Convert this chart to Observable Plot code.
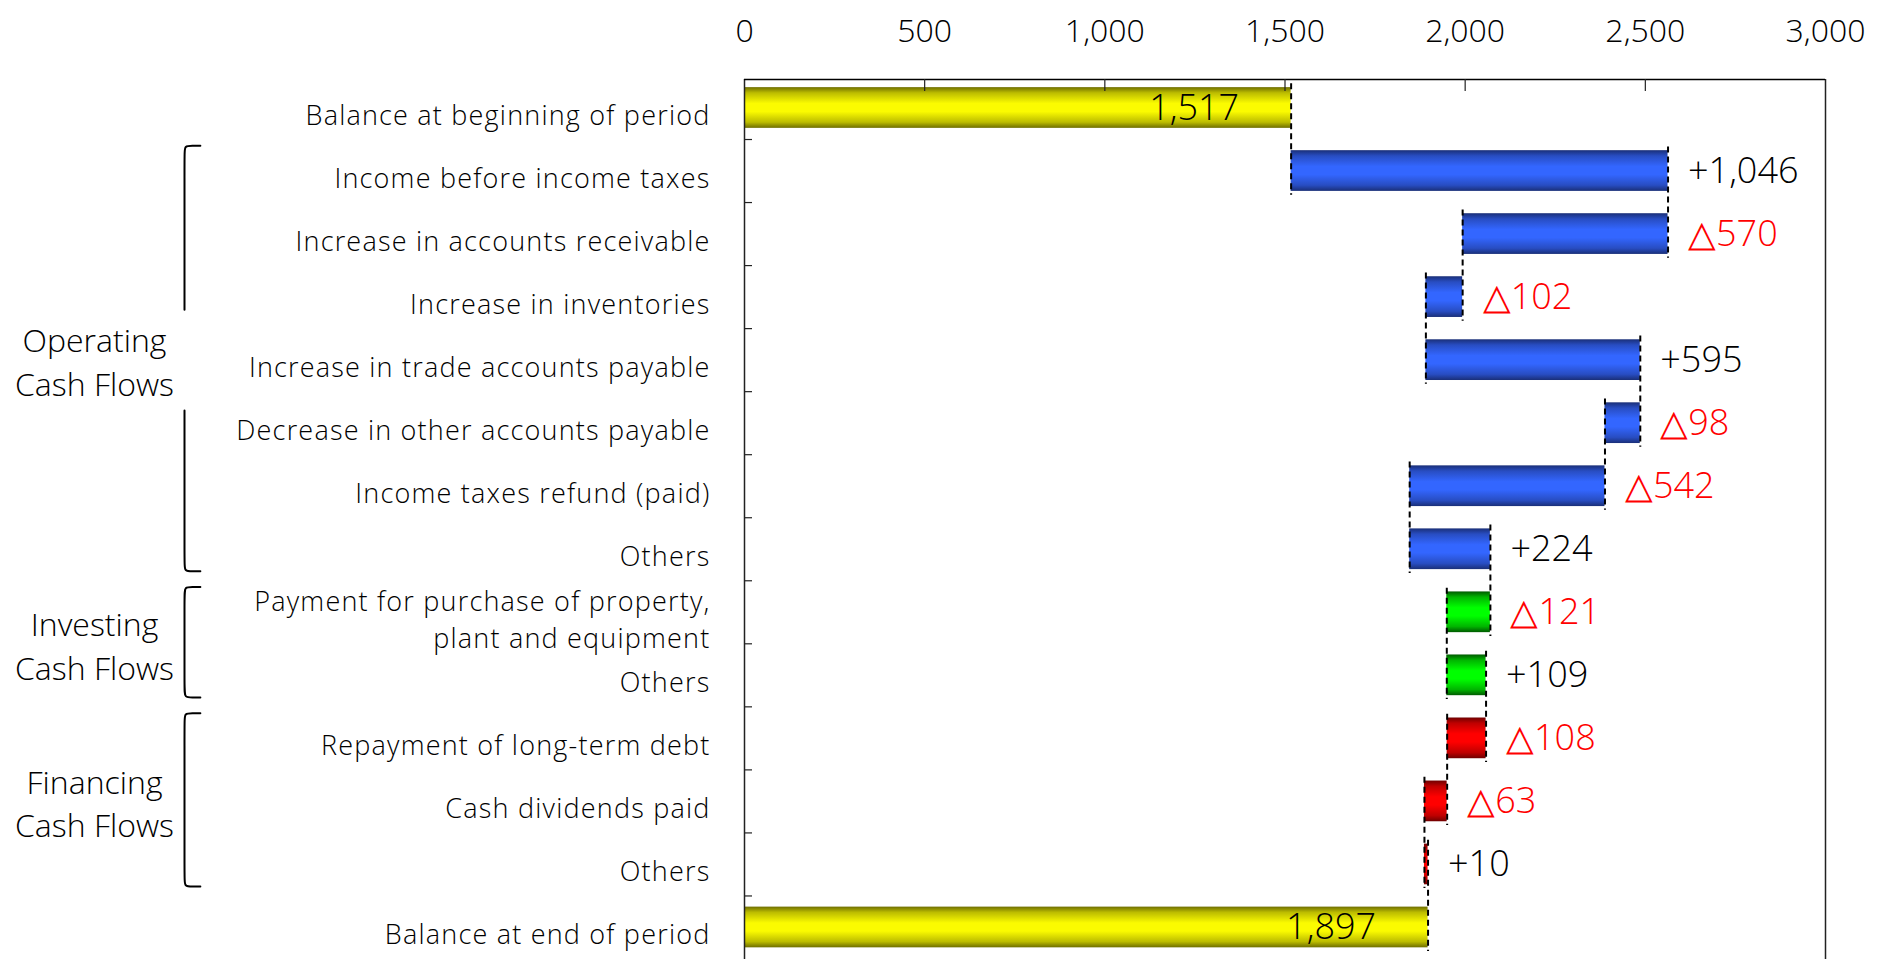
<!DOCTYPE html>
<html>
<head>
<meta charset="utf-8">
<script src="https://cdn.jsdelivr.net/npm/d3@7"></script>
<script src="https://cdn.jsdelivr.net/npm/@observablehq/plot@0.6"></script>
<style>
  html, body { margin: 0; padding: 0; background: #fff; }
  #chart svg { display: block; }
  .cfchart g[aria-label="y-axis tick label"] text { letter-spacing: 1.2px; }
</style>
</head>
<body>
<div id="chart"></div>
<script>
// ---------------- data ----------------
const categories = [
  "Balance at beginning of period",
  "Income before income taxes",
  "Increase in accounts receivable",
  "Increase in inventories",
  "Increase in trade accounts payable",
  "Decrease in other accounts payable",
  "Income taxes refund (paid)",
  "Others",
  "Payment for purchase of property,\nplant and equipment",
  "Others",
  "Repayment of long-term debt",
  "Cash dividends paid",
  "Others",
  "Balance at end of period"
];
const openingBalance = 1517;
const closingBalance = 1897;
const flowValues = [1046, -570, -102, 595, -98, -542, 224, -121, 109, -108, -63, 10];
const flowGroup = ["Operating", "Operating", "Operating", "Operating", "Operating", "Operating", "Operating",
                   "Investing", "Investing", "Financing", "Financing", "Financing"];
const groupNames = ["Operating", "Investing", "Financing"];
const groupLabels = ["Operating\nCash Flows", "Investing\nCash Flows", "Financing\nCash Flows"];
const xTicks = [0, 500, 1000, 1500, 2000, 2500, 3000];

// ---------------- layout constants ----------------
const W = 1884, H = 959;
const M_TOP = 79, M_BOTTOM = 0, M_LEFT = 744, M_RIGHT = 59;
const Y_DOMAIN = [-0.452, 13.508];
const HALF = 0.323;          // half bar thickness (in row units)
const EXT = 0.06;            // dashed connector overshoot
const FONT = "'Open Sans', Lato, sans-serif";

// ---------------- derived rows ----------------
const bars = [];
bars.push({i: 0, x1: 0, x2: openingBalance, kind: "balance", value: openingBalance});
let cum = openingBalance;
flowValues.forEach((v, k) => {
  const s = cum; cum += v;
  bars.push({i: k + 1, x1: s, x2: cum, kind: flowGroup[k], value: v});
});
bars.push({i: categories.length - 1, x1: 0, x2: closingBalance, kind: "balance", value: closingBalance});

const connectors = bars.slice(0, -1).map(b => ({i: b.i, x: b.x2}));
const flows = bars.filter(b => b.kind !== "balance");
const balances = bars.filter(b => b.kind === "balance");

const groups = groupNames.map((g, k) => {
  const idx = flows.filter(f => f.kind === g).map(f => f.i);
  return {name: groupLabels[k], first: d3.min(idx), last: d3.max(idx), broken: k === 0};
});

// bracket polylines (row units for y, small data-unit hook for x)
const HOOK = 44, R = 0.12, GAP = 0.8;
const bracketPts = [];
groups.forEach((g, k) => {
  const top = g.first - 0.4, bot = g.last + 0.35, mid = (g.first + g.last) / 2;
  const head = [[HOOK, top], [HOOK / 2, top], [0, top], [0, top + R]];
  const tail = [[0, bot - R], [0, bot], [HOOK / 2, bot], [HOOK, bot]];
  if (g.broken) {
    [...head, [0, mid - GAP]].forEach(([x, y]) => bracketPts.push({x, y, z: k + "a"}));
    [[0, mid + GAP], ...tail].forEach(([x, y]) => bracketPts.push({x, y, z: k + "b"}));
  } else {
    [...head, ...tail].forEach(([x, y]) => bracketPts.push({x, y, z: k + "a"}));
  }
});

const fmt = d3.format(",");
const gradients = {
  gYellow: ["#6e6e00", "#fbfb00"],
  gBlue: ["#1a2f78", "#3366ff"],
  gGreen: ["#005a00", "#00ff00"],
  gRed: ["#700000", "#ff0000"]
};
const fills = {balance: "url(#gYellow)", Operating: "url(#gBlue)", Investing: "url(#gGreen)", Financing: "url(#gRed)"};

function defsMark() {
  const ns = "http://www.w3.org/2000/svg";
  const defs = document.createElementNS(ns, "defs");
  for (const [id, [dark, bright]] of Object.entries(gradients)) {
    const lg = document.createElementNS(ns, "linearGradient");
    lg.setAttribute("id", id);
    lg.setAttribute("x1", "0"); lg.setAttribute("y1", "0");
    lg.setAttribute("x2", "0"); lg.setAttribute("y2", "1");
    const mid = d3.interpolateRgb(dark, bright)(0.55);
    [[0, dark], [0.14, mid], [0.4, bright], [0.6, bright], [0.86, mid], [1, dark]].forEach(([o, c]) => {
      const st = document.createElementNS(ns, "stop");
      st.setAttribute("offset", o);
      st.setAttribute("stop-color", c);
      lg.appendChild(st);
    });
    defs.appendChild(lg);
  }
  return defs;
}

const frameW = W - M_LEFT - M_RIGHT, frameH = H - M_TOP - M_BOTTOM;

const chart = Plot.plot({
  width: W, height: H,
  className: "cfchart",
  marginTop: M_TOP, marginBottom: M_BOTTOM, marginLeft: M_LEFT, marginRight: M_RIGHT,
  x: {domain: [xTicks[0], xTicks[xTicks.length - 1]]},
  y: {domain: Y_DOMAIN, reverse: true},
  style: {fontFamily: FONT, color: "#000", background: "#fff", overflow: "visible"},
  marks: [
    defsMark,
    // bars
    ...Object.entries(fills).map(([kind, fill]) =>
      Plot.rect(bars.filter(b => b.kind === kind), {
        x1: "x1", x2: "x2", y1: d => d.i - HALF, y2: d => d.i + HALF, fill
      })),
    // dashed connectors
    Plot.ruleX(connectors, {
      x: "x", y1: d => d.i - HALF - EXT, y2: d => d.i + 1 + HALF + EXT,
      stroke: "#000", strokeWidth: 2, strokeDasharray: "6,4"
    }),
    // frame (top, left, right)
    Plot.ruleX([xTicks[0], xTicks[xTicks.length - 1]], {stroke: "#222", strokeWidth: 1.5}),
    Plot.ruleY([Y_DOMAIN[0]], {stroke: "#000", strokeWidth: 1.5}),
    // inward ticks on top edge
    Plot.ruleX(xTicks.slice(1, -1), {insetBottom: frameH - 12, stroke: "#222", strokeWidth: 1.2}),
    // small ticks on left edge between categories
    Plot.ruleY(d3.range(0.5, categories.length - 1, 1), {insetRight: frameW - 8, stroke: "#222", strokeWidth: 1.2}),
    // axes
    Plot.axisX(xTicks, {anchor: "top", tickSize: 0, tickPadding: 38, fontSize: 32, fontWeight: 300, tickFormat: fmt}),
    Plot.axisY(d3.range(categories.length), {
      anchor: "left", tickSize: 0, tickPadding: 34, fontSize: 27, fontWeight: 300, lineHeight: 1.37,
      tickFormat: i => categories[i], dy: 5
    }),
    // value labels
    Plot.text(balances, {x: "x2", y: "i", text: d => fmt(d.value), textAnchor: "end", dx: -52, fontSize: 36, fontWeight: 300, fill: "#000"}),
    Plot.text(flows, {
      x: d => Math.max(d.x1, d.x2), y: "i",
      text: d => (d.value < 0 ? "△" : "+") + fmt(Math.abs(d.value)),
      textAnchor: "start", dx: 20, fontSize: 36, fontWeight: 300,
      fill: d => d.value < 0 ? "#ff0000" : "#000000"
    }),
    // group brackets and labels
    Plot.line(bracketPts, {x: "x", y: "y", z: "z", curve: "basis", dx: -560, stroke: "#000", strokeWidth: 2}),
    Plot.text(groups, {
      y: d => (d.first + d.last) / 2, text: "name", frameAnchor: "left",
      textAnchor: "middle", dx: -650, fontSize: 32, fontWeight: 300, lineHeight: 1.37, fill: "#000"
    })
  ]
});

document.getElementById("chart").appendChild(chart);
</script>
</body>
</html>
